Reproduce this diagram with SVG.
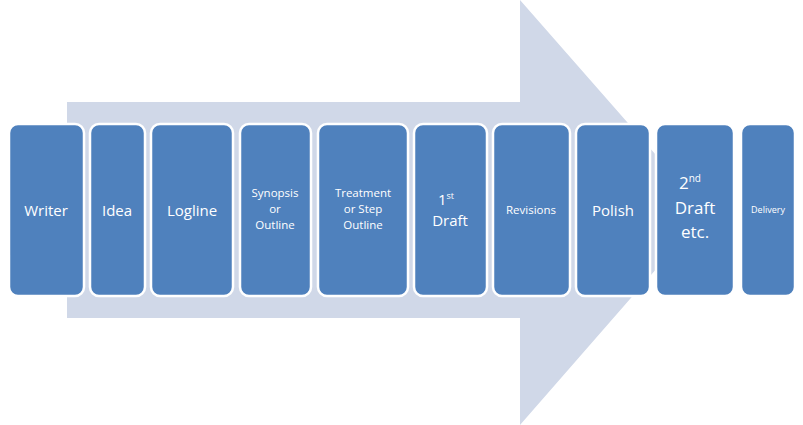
<svg xmlns="http://www.w3.org/2000/svg" width="803" height="425" viewBox="0 0 803 425">
<style>
.b{fill:#4f81bd;stroke:#fff;stroke-width:2.5}
text{font-family:"Open Sans",sans-serif;fill:#fff;text-anchor:middle}
</style>
<rect width="803" height="425" fill="#fff"/>
<polygon id="arrow" points="67,102 520,102 520,0 706,212 520,425 520,318 67,318" fill="#d0d8e8"/>
<g id="connectors"/>
<g id="writer"><rect class="b" x="9" y="124" width="75" height="172" rx="9"/><text x="46" y="216" font-size="15">Writer</text></g>
<g id="idea"><rect class="b" x="90" y="124" width="55" height="172" rx="9"/><text x="117" y="216" font-size="15">Idea</text></g>
<g id="logline"><rect class="b" x="151" y="124" width="82" height="172" rx="9"/><text x="192" y="216" font-size="15">Logline</text></g>
<g id="synopsis"><rect class="b" x="240" y="124" width="71" height="172" rx="9"/><text font-size="11.5"><tspan x="275" y="197">Synopsis</tspan><tspan x="275" y="213">or</tspan><tspan x="275" y="229">Outline</tspan></text></g>
<g id="treatment"><rect class="b" x="318" y="124" width="90" height="172" rx="9"/><text font-size="11.5"><tspan x="363" y="197">Treatment</tspan><tspan x="363" y="213">or Step</tspan><tspan x="363" y="229">Outline</tspan></text></g>
<g id="draft1"><rect class="b" x="414" y="124" width="73" height="172" rx="9"/><text font-size="15"><tspan x="446" y="205">1<tspan font-size="9" dy="-6">st</tspan></tspan><tspan x="450" y="226">Draft</tspan></text></g>
<g id="revisions"><rect class="b" x="493" y="124" width="77" height="172" rx="9"/><text x="531" y="214" font-size="11.5">Revisions</text></g>
<g id="polish"><rect class="b" x="576" y="124" width="74" height="172" rx="9"/><text x="613" y="216" font-size="15">Polish</text></g>
<g id="draft2"><rect class="b" x="656" y="124" width="78" height="172" rx="9"/><text font-size="17"><tspan x="690" y="189">2<tspan font-size="10" dy="-7">nd</tspan></tspan><tspan x="695" y="214">Draft</tspan><tspan x="695" y="238">etc.</tspan></text></g>
<g id="delivery"><rect class="b" x="741" y="124" width="54" height="172" rx="9"/><text x="768" y="213" font-size="9">Delivery</text></g>
</svg>
